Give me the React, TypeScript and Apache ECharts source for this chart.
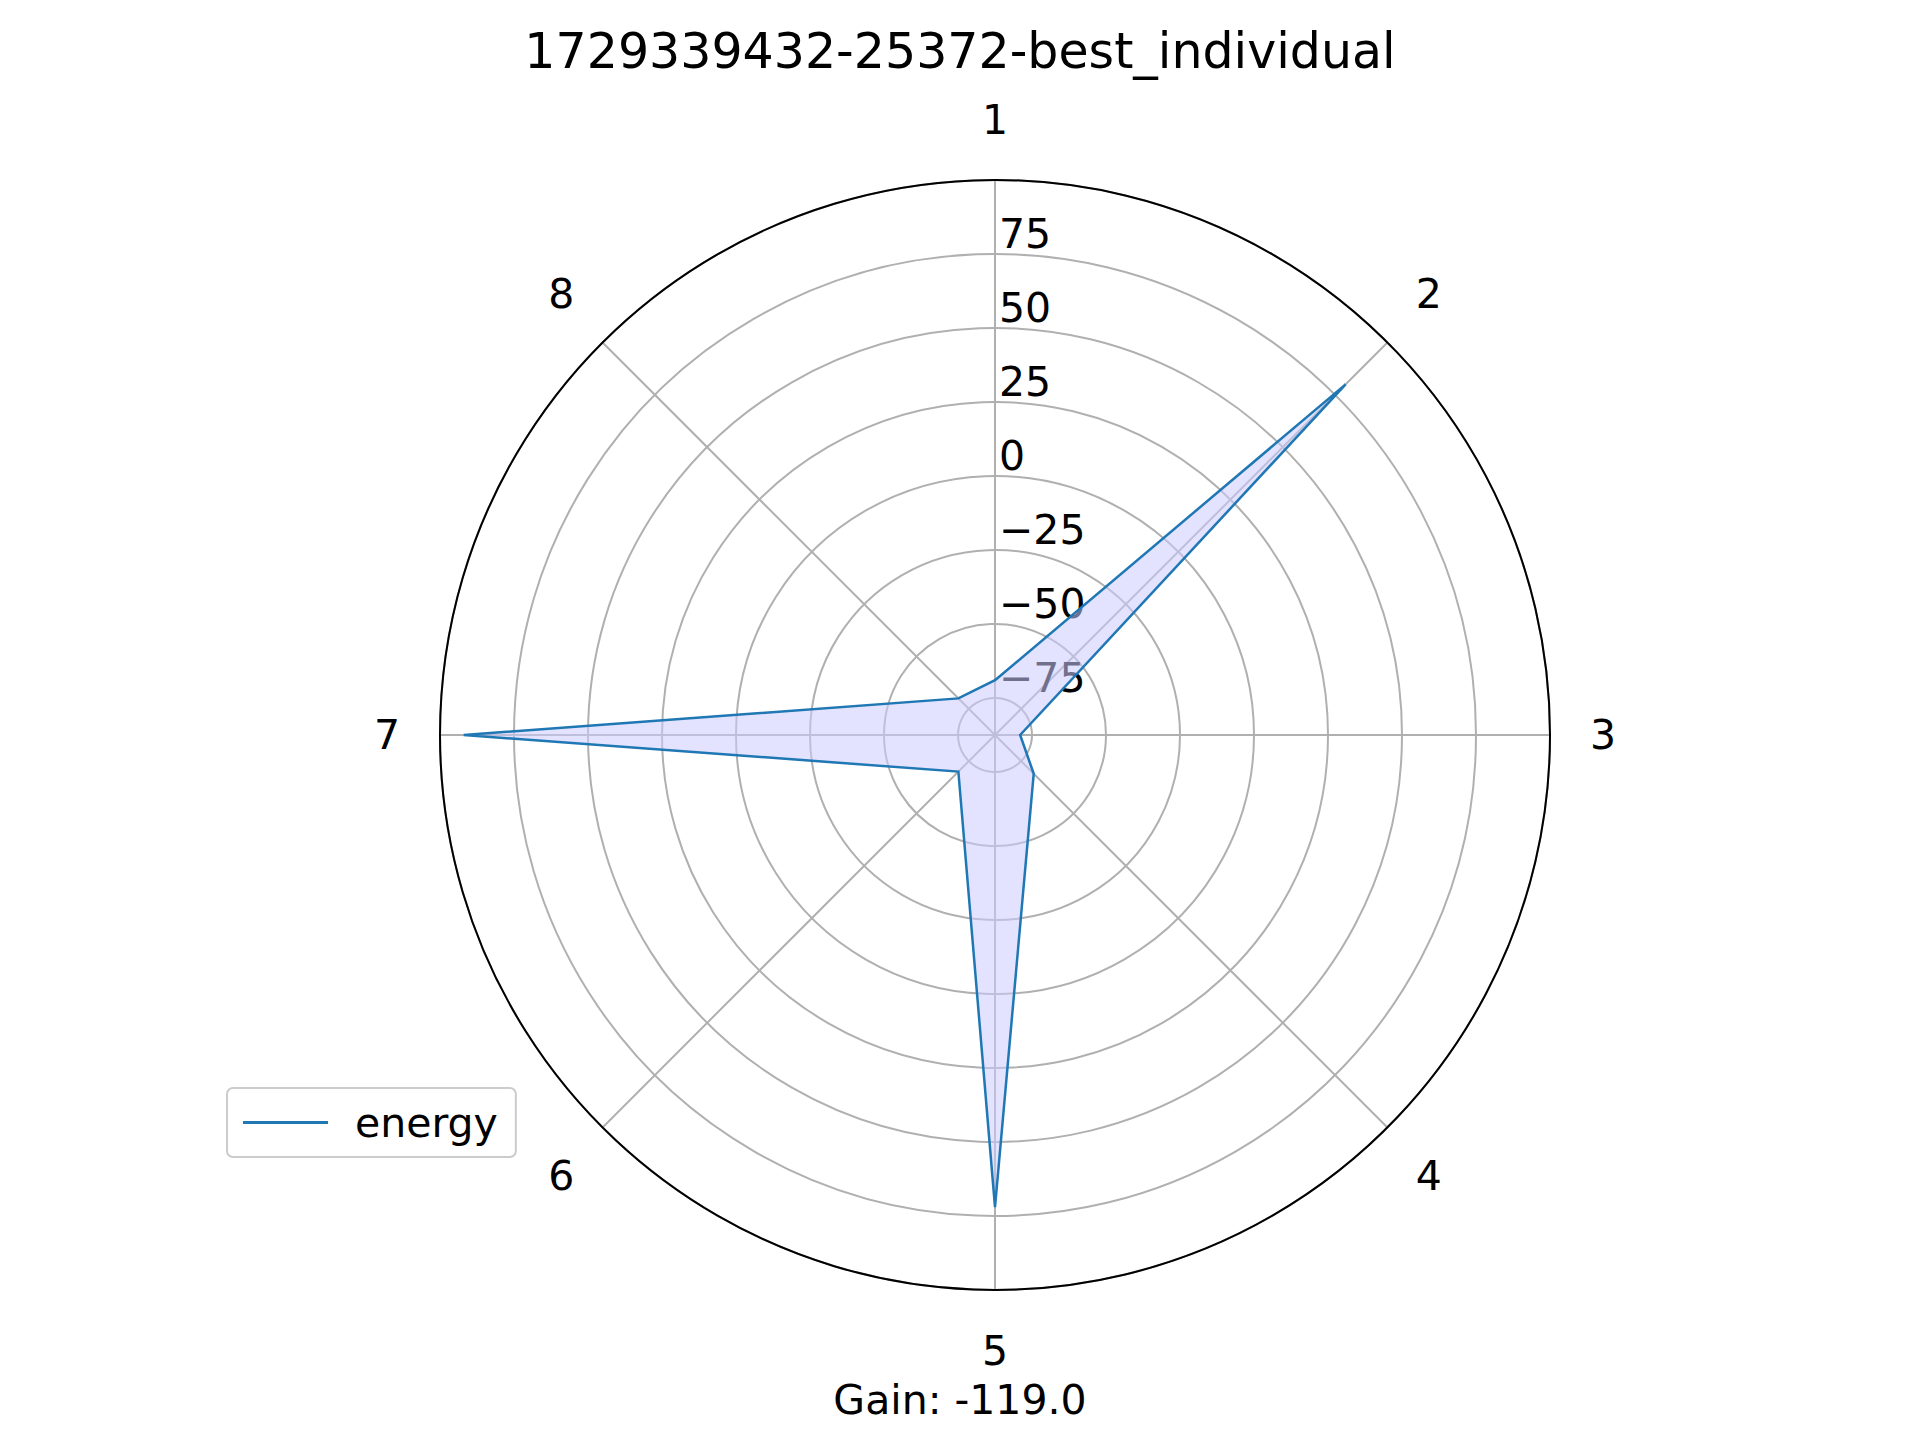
import React, { useEffect, useRef } from "react";
import * as echarts from "echarts";

const categories = ["1", "2", "3", "4", "5", "6", "7", "8"];
const energy = [-69, 80, -79, -69, 72, -70, 92, -70];
const radiusMin = -87.5;
const radiusMax = 100;
const titleText = "1729339432-25372-best_individual";
const gainText = "Gain: -119.0";
const FONT = "DejaVu Sans";

export default function App() {
  const ref = useRef<HTMLDivElement>(null);
  useEffect(() => {
    const chart = echarts.init(ref.current!, null, { renderer: "svg" });
    chart.setOption({
      animation: false,
      backgroundColor: "#fff",
      textStyle: { fontFamily: FONT },
      title: [
        { text: titleText, left: "center", top: 22, textStyle: { fontFamily: FONT, fontSize: 49, fontWeight: "normal", color: "#000" } },
        { text: gainText, left: "center", top: 1374, textStyle: { fontFamily: FONT, fontSize: 41, fontWeight: "normal", color: "#000" } },
      ],
      legend: {
        left: 227, top: 1088, orient: "vertical",
        padding: [14, 18, 14, 16],
        borderColor: "#ccc", borderWidth: 2, borderRadius: 6,
        itemWidth: 85, itemHeight: 3, itemGap: 10,
        icon: "rect",
        textStyle: { fontFamily: FONT, fontSize: 41, color: "#000", padding: [0, 0, 0, 22] },
        data: [{ name: "energy", itemStyle: { color: "#1f77b4" } }],
      },
      polar: { center: [995, 735], radius: 555 },
      angleAxis: {
        type: "value", min: 0, max: categories.length, interval: 1, startAngle: 90, clockwise: true,
        axisLine: { show: true, lineStyle: { color: "#000", width: 2 } },
        axisTick: { show: false },
        axisLabel: {
          fontFamily: FONT, fontSize: 41, color: "#000", margin: 40,
          formatter: (v: number) => (v < categories.length ? categories[v] : ""),
        },
        splitLine: { show: true, lineStyle: { color: "#b0b0b0", width: 2 } },
      },
      radiusAxis: {
        type: "value", min: radiusMin, max: radiusMax, interval: 12.5,
        axisLine: { show: false }, axisTick: { show: false },
        axisLabel: {
          fontFamily: FONT, fontSize: 41, color: "#000", align: "left", margin: -4,
          verticalAlign: "bottom",
          formatter: (v: number) => (v % 25 === 0 && v < radiusMax ? String(v).replace("-", "\u2212") : ""),
        },
        splitLine: { show: true, lineStyle: { color: ["rgba(0,0,0,0)", "#b0b0b0"], width: 2 } },
      },
      series: [
        {
          name: "energy", type: "custom", coordinateSystem: "polar",
          data: energy.map((v, i) => [v, i]),
          renderItem: (params: any, api: any) => {
            if (params.dataIndex !== 0) return null;
            const pts = energy.map((v, i) => api.coord([v, i]));
            return {
              type: "polygon",
              shape: { points: pts },
              style: { fill: "rgba(204,204,255,0.55)", stroke: "#1f77b4", lineWidth: 2.5 },
            };
          },
          itemStyle: { color: "#1f77b4" },
          z: 5,
        },
      ],
    });
    return () => chart.dispose();
  }, []);
  return <div ref={ref} style={{ position: "absolute", left: 0, top: 0, width: 1920, height: 1440 }} />;
}
